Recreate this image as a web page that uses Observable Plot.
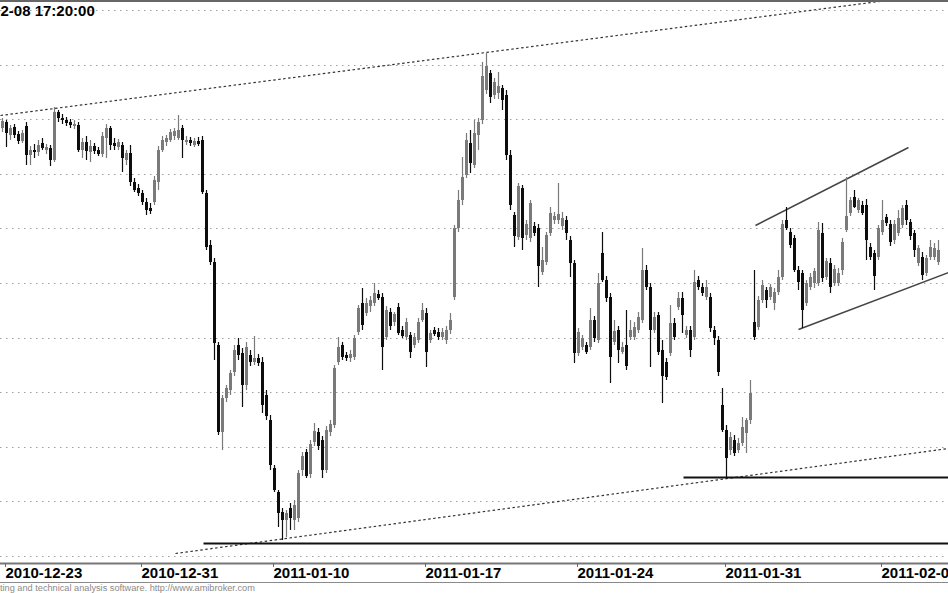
<!DOCTYPE html>
<html><head><meta charset="utf-8">
<script src="https://cdn.jsdelivr.net/npm/d3@7"></script>
<script src="https://cdn.jsdelivr.net/npm/@observablehq/plot@0.6"></script>
<style>
html,body{margin:0;padding:0;background:#fff;overflow:hidden;}
#wrap{position:relative;width:948px;height:593px;overflow:hidden;font-family:"Liberation Sans",Arial,sans-serif;}
#chart svg{display:block;}
#footer{border-top:1px solid #8a8a8a;font-size:9.2px;line-height:9px;color:#8a8a8a;padding-top:1px;white-space:nowrap;}
</style></head>
<body><div id="wrap"><div id="chart"></div><div id="footer">ting and technical analysis software. http://www.amibroker.com</div></div>
<script>
const title = "2-08 17:20:00";
const dateLabels = ["2010-12-23","2010-12-31","2011-01-10","2011-01-17","2011-01-24","2011-01-31","2011-02-07"];
const tickIndex = [0, 34, 67, 105, 143, 180, 219];
const gridLevels = [3.9990, 3.9935, 3.9881, 3.9826, 3.9772, 3.9717, 3.9662, 3.9608, 3.9553, 3.9499, 3.9444];

const open = [
3.9872,3.9878,3.9865,3.9873,3.9866,3.9859,3.9874,3.9845,3.9850,3.9848,
3.9857,3.9850,3.9852,3.9840,3.9888,3.9882,3.9880,3.9878,3.9874,3.9875,
3.9850,3.9858,3.9848,3.9854,3.9850,3.9846,3.9862,3.9872,3.9857,3.9853,
3.9855,3.9840,3.9847,3.9818,3.9812,3.9807,3.9798,3.9792,3.9798,3.9818,
3.9850,3.9858,3.9860,3.9864,3.9862,3.9872,3.9858,3.9860,3.9855,3.9859,
3.9860,3.9807,3.9755,3.9738,3.9655,3.9568,3.9602,3.9610,3.9628,3.9655,
3.9647,3.9615,3.9645,3.9638,3.9642,3.9638,3.9605,3.9580,3.9532,3.9508,
3.9488,3.9480,3.9492,3.9480,3.9482,3.9530,3.9548,3.9526,3.9558,3.9568,
3.9560,3.9530,3.9568,3.9575,3.9638,3.9655,3.9645,3.9642,3.9643,3.9668,
3.9697,3.9687,3.9694,3.9697,3.9706,3.9703,3.9663,3.9688,3.9678,3.9693,
3.9670,3.9663,3.9665,3.9655,3.9660,3.9680,3.9687,3.9660,3.9670,3.9668,
3.9663,3.9660,3.9670,3.9703,3.9772,3.9800,3.9825,3.9857,3.9835,3.9865,
3.9880,3.9910,3.9927,3.9905,3.9907,3.9912,3.9905,3.9845,3.9785,3.9763,
3.9812,3.9765,3.9762,3.9774,3.9772,3.9728,3.9738,3.9767,3.9780,3.9780,
3.9774,3.9780,3.9760,3.9737,3.9647,3.9653,3.9655,3.9653,3.9680,3.9660,
3.9747,3.9720,3.9703,3.9658,3.9670,3.9648,3.9655,3.9663,3.9663,3.9670,
3.9680,3.9730,3.9713,3.9670,3.9685,3.9650,3.9638,3.9647,3.9677,3.9693,
3.9702,3.9665,3.9670,3.9663,3.9720,3.9713,3.9703,3.9703,3.9670,3.9660,
3.9595,3.9570,3.9550,3.9560,3.9550,3.9557,3.9567,3.9580,3.9678,3.9673,
3.9700,3.9710,3.9703,3.9697,3.9708,3.9723,3.9780,3.9768,3.9762,3.9730,
3.9727,3.9697,3.9713,3.9717,3.9717,3.9767,3.9723,3.9737,3.9717,3.9717,
3.9730,3.9770,3.9787,3.9803,3.9790,3.9795,3.9795,3.9753,3.9747,3.9743,
3.9768,3.9783,3.9776,3.9760,3.9767,3.9775,3.9795,3.9778,3.9767,3.9737,
3.9743,3.9727,3.9743,3.9743,3.9738];
const high = [
3.9882,3.9880,3.9875,3.9876,3.9869,3.9870,3.9878,3.9854,3.9856,3.9860,
3.9862,3.9856,3.9855,3.9893,3.9890,3.9886,3.9883,3.9881,3.9880,3.9878,
3.9862,3.9864,3.9860,3.9857,3.9853,3.9868,3.9876,3.9874,3.9862,3.9861,
3.9858,3.9850,3.9855,3.9822,3.9816,3.9810,3.9802,3.9797,3.9824,3.9854,
3.9864,3.9865,3.9871,3.9872,3.9885,3.9875,3.9864,3.9863,3.9862,3.9863,
3.9864,3.9810,3.9760,3.9742,3.9658,3.9605,3.9615,3.9630,3.9655,3.9662,
3.9652,3.9658,3.9650,3.9664,3.9646,3.9643,3.9610,3.9585,3.9535,3.9510,
3.9492,3.9490,3.9497,3.9500,3.9530,3.9548,3.9551,3.9560,3.9577,3.9572,
3.9564,3.9574,3.9580,3.9635,3.9663,3.9658,3.9648,3.9650,3.9665,3.9695,
3.9712,3.9702,3.9704,3.9717,3.9710,3.9707,3.9694,3.9692,3.9688,3.9697,
3.9674,3.9682,3.9668,3.9667,3.9682,3.9697,3.9692,3.9670,3.9673,3.9672,
3.9672,3.9674,3.9687,3.9775,3.9810,3.9843,3.9867,3.9870,3.9880,3.9882,
3.9938,3.9947,3.9930,3.9922,3.9928,3.9915,3.9910,3.9850,3.9788,3.9817,
3.9815,3.9780,3.9800,3.9778,3.9776,3.9753,3.9768,3.9793,3.9788,3.9817,
3.9788,3.9784,3.9764,3.9740,3.9672,3.9665,3.9658,3.9692,3.9684,3.9727,
3.9768,3.9724,3.9707,3.9680,3.9674,3.9658,3.9690,3.9680,3.9678,3.9688,
3.9752,3.9735,3.9717,3.9688,3.9688,3.9660,3.9642,3.9695,3.9682,3.9708,
3.9708,3.9674,3.9674,3.9730,3.9724,3.9717,3.9720,3.9707,3.9674,3.9664,
3.9612,3.9575,3.9568,3.9565,3.9562,3.9583,3.9582,3.9620,3.9730,3.9704,
3.9720,3.9713,3.9716,3.9712,3.9730,3.9780,3.9793,3.9772,3.9765,3.9734,
3.9730,3.9720,3.9727,3.9732,3.9778,3.9777,3.9742,3.9742,3.9735,3.9732,
3.9762,3.9823,3.9803,3.9810,3.9802,3.9799,3.9801,3.9757,3.9750,3.9775,
3.9800,3.9786,3.9780,3.9780,3.9790,3.9795,3.9800,3.9781,3.9770,3.9755,
3.9748,3.9745,3.9760,3.9757,3.9760];
const low = [
3.9868,3.9853,3.9860,3.9862,3.9856,3.9857,3.9835,3.9835,3.9842,3.9844,
3.9850,3.9846,3.9834,3.9838,3.9878,3.9876,3.9874,3.9872,3.9871,3.9848,
3.9842,3.9840,3.9838,3.9846,3.9844,3.9843,3.9842,3.9850,3.9850,3.9850,
3.9828,3.9835,3.9814,3.9808,3.9804,3.9795,3.9785,3.9786,3.9795,3.9810,
3.9848,3.9854,3.9858,3.9860,3.9860,3.9842,3.9855,3.9854,3.9853,3.9854,
3.9806,3.9750,3.9735,3.9640,3.9565,3.9550,3.9598,3.9605,3.9624,3.9640,
3.9593,3.9610,3.9634,3.9635,3.9634,3.9587,3.9580,3.9530,3.9508,3.9473,
3.9460,3.9463,3.9470,3.9470,3.9478,3.9524,3.9522,3.9522,3.9554,3.9550,
3.9522,3.9527,3.9564,3.9572,3.9635,3.9640,3.9639,3.9638,3.9640,3.9665,
3.9670,3.9684,3.9688,3.9694,3.9700,3.9630,3.9660,3.9670,3.9674,3.9665,
3.9662,3.9660,3.9642,3.9652,3.9657,3.9678,3.9633,3.9657,3.9664,3.9660,
3.9660,3.9656,3.9666,3.9700,3.9768,3.9795,3.9822,3.9827,3.9832,3.9850,
3.9876,3.9906,3.9897,3.9901,3.9901,3.9890,3.9840,3.9790,3.9753,3.9760,
3.9750,3.9760,3.9758,3.9764,3.9713,3.9725,3.9735,3.9764,3.9776,3.9776,
3.9770,3.9760,3.9723,3.9637,3.9644,3.9650,3.9646,3.9650,3.9658,3.9657,
3.9718,3.9698,3.9617,3.9655,3.9637,3.9646,3.9630,3.9660,3.9660,3.9667,
3.9677,3.9710,3.9633,3.9667,3.9645,3.9597,3.9620,3.9644,3.9660,3.9690,
3.9667,3.9662,3.9643,3.9660,3.9710,3.9704,3.9700,3.9668,3.9655,3.9624,
3.9568,3.9523,3.9545,3.9544,3.9547,3.9554,3.9547,3.9576,3.9660,3.9670,
3.9697,3.9692,3.9700,3.9690,3.9705,3.9720,3.9770,3.9752,3.9728,3.9710,
3.9672,3.9694,3.9710,3.9712,3.9714,3.9718,3.9720,3.9707,3.9714,3.9714,
3.9725,3.9768,3.9784,3.9792,3.9787,3.9785,3.9740,3.9740,3.9710,3.9740,
3.9765,3.9774,3.9754,3.9756,3.9764,3.9772,3.9775,3.9760,3.9743,3.9734,
3.9720,3.9724,3.9740,3.9740,3.9735];
const close = [
3.9879,3.9867,3.9872,3.9865,3.9859,3.9867,3.9845,3.9850,3.9848,3.9855,
3.9852,3.9853,3.9840,3.9888,3.9882,3.9880,3.9877,3.9875,3.9876,3.9850,
3.9858,3.9849,3.9854,3.9849,3.9846,3.9864,3.9872,3.9855,3.9854,3.9858,
3.9842,3.9847,3.9818,3.9810,3.9807,3.9798,3.9790,3.9789,3.9820,3.9850,
3.9860,3.9862,3.9868,3.9869,3.9870,3.9860,3.9860,3.9857,3.9859,3.9856,
3.9808,3.9753,3.9738,3.9657,3.9568,3.9602,3.9612,3.9627,3.9650,3.9645,
3.9615,3.9653,3.9638,3.9642,3.9637,3.9595,3.9584,3.9535,3.9510,3.9487,
3.9480,3.9487,3.9482,3.9495,3.9527,3.9544,3.9524,3.9556,3.9569,3.9554,
3.9530,3.9570,3.9576,3.9632,3.9653,3.9643,3.9642,3.9646,3.9662,3.9692,
3.9675,3.9697,3.9700,3.9707,3.9702,3.9653,3.9690,3.9674,3.9686,3.9667,
3.9664,3.9678,3.9648,3.9663,3.9678,3.9690,3.9648,3.9667,3.9666,3.9663,
3.9668,3.9670,3.9680,3.9772,3.9800,3.9823,3.9860,3.9837,3.9867,3.9878,
3.9924,3.9934,3.9903,3.9918,3.9914,3.9900,3.9845,3.9795,3.9764,3.9814,
3.9762,3.9776,3.9797,3.9767,3.9734,3.9740,3.9765,3.9787,3.9784,3.9786,
3.9782,3.9767,3.9737,3.9647,3.9668,3.9662,3.9648,3.9680,3.9662,3.9717,
3.9720,3.9702,3.9643,3.9669,3.9650,3.9653,3.9634,3.9670,3.9673,3.9683,
3.9730,3.9713,3.9670,3.9683,3.9648,3.9624,3.9623,3.9677,3.9663,3.9702,
3.9685,3.9670,3.9650,3.9718,3.9713,3.9707,3.9713,3.9672,3.9662,3.9628,
3.9570,3.9542,3.9563,3.9547,3.9557,3.9573,3.9580,3.9607,3.9663,3.9700,
3.9715,3.9700,3.9713,3.9708,3.9723,3.9776,3.9772,3.9755,3.9730,3.9718,
3.9690,3.9717,3.9723,3.9729,3.9770,3.9722,3.9739,3.9713,3.9731,3.9727,
3.9758,3.9784,3.9800,3.9793,3.9800,3.9787,3.9760,3.9743,3.9724,3.9772,
3.9780,3.9777,3.9758,3.9776,3.9782,3.9792,3.9780,3.9764,3.9750,3.9752,
3.9725,3.9742,3.9753,3.9752,3.9750];

// trend lines drawn on the chart (bar index, price)
const lineKind = ["resistance", "support", "level", "level", "channel", "channel"];
const lineX1 = [-0.5, 43.25, 50.25, 170.25, 188.25, 199];
const lineY1 = [3.9885, 3.9447, 3.9457, 3.9523, 3.9775, 3.9671];
const lineX2 = [236.5, 236.5, 236.5, 236.5, 226.5, 236.5];
const lineY2 = [4.0008, 3.9552, 3.9457, 3.9523, 3.9853, 3.9728];

const bars = open.map((o, i) => ({i, open: o, high: high[i], low: low[i], close: close[i]}));
const lines = lineKind.map((k, j) => ({kind: k, x1: lineX1[j], y1: lineY1[j], x2: lineX2[j], y2: lineY2[j]}));
const UP = "#7a7a7a", DOWN = "#0d0d0d";
const col = d => d.close >= d.open ? UP : DOWN;
const dotted = lines.filter(d => d.kind === "resistance" || d.kind === "support");
const levels = lines.filter(d => d.kind === "level");
const channel = lines.filter(d => d.kind === "channel");

const chart = Plot.plot({
  width: 948, height: 582,
  marginTop: 0, marginRight: 0, marginBottom: 19, marginLeft: 0,
  style: {fontFamily: "'Liberation Sans', Arial, sans-serif", background: "#fff"},
  x: {type: "linear", domain: [-0.5, 236.5], axis: null},
  y: {domain: [3.9437, 4.0000], axis: null},
  marks: [
    Plot.ruleY(gridLevels, {stroke: "#a0a0a0", strokeDasharray: "1.5,4.5", strokeWidth: 1.2}),
    Plot.link(dotted, {x1: "x1", y1: "y1", x2: "x2", y2: "y2", stroke: "#333", strokeWidth: 1.2, strokeDasharray: "2.5,2.5", clip: true}),
    Plot.link(levels, {x1: "x1", y1: "y1", x2: "x2", y2: "y2", stroke: "#111", strokeWidth: 2, clip: true}),
    Plot.link(channel, {x1: "x1", y1: "y1", x2: "x2", y2: "y2", stroke: "#444", strokeWidth: 1.5, clip: true}),
    Plot.ruleX(bars, {x: "i", y1: "low", y2: "high", stroke: col, strokeWidth: 1.2}),
    Plot.ruleX(bars, {x: "i", y1: "open", y2: "close", stroke: col, strokeWidth: 3}),
    Plot.frame({anchor: "bottom", stroke: "#777", strokeWidth: 2}),
    Plot.frame({anchor: "top", stroke: "#666", strokeWidth: 3}),
    Plot.axisX({ticks: tickIndex, tickFormat: d => dateLabels[tickIndex.indexOf(d)], tickSize: 4, tickPadding: 0,
      textAnchor: "start", dx: 3, fontSize: 15, fontWeight: "bold", stroke: "#666", fill: "#000"}),
    Plot.text([title], {frameAnchor: "top-left", lineAnchor: "top", textAnchor: "start", dy: 5, fontSize: 15, fontWeight: "bold", fill: "#000"})
  ]
});
document.getElementById("chart").appendChild(chart);
</script>
</body></html>
